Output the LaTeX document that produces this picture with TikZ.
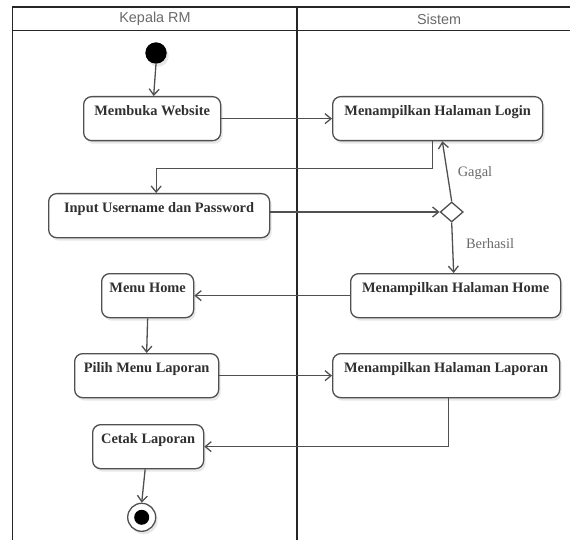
\documentclass[tikz,border=0pt]{standalone}
\usepackage{fontspec}
\setmainfont{Liberation Serif}
\newfontfamily\hdrfont{Liberation Sans}
\usetikzlibrary{arrows.meta,shapes.geometric,shadows,calc}
\definecolor{ln}{HTML}{505050}
\definecolor{txt}{HTML}{303030}
\definecolor{lbl}{HTML}{6A6A6A}
\begin{document}
\begin{tikzpicture}[x=1pt,y=-1pt,
  act/.style={draw=ln, line width=1.3pt, rounded corners=8pt, fill=white,
    drop shadow={shadow xshift=2pt,shadow yshift=-3pt,fill=black!18,opacity=.5},
    font=\bfseries\fontsize{14.4}{16}\selectfont, text=txt,
    inner xsep=0pt, inner ysep=0pt, text height=18.8pt, text depth=25.2pt,
    anchor=north west},
  arr/.style={draw=ln, line width=1.3pt, -{Straight Barb[length=6pt,width=10pt]}},
  frame/.style={draw=black!85, line width=1.5pt},
  hdr/.style={font=\hdrfont\fontsize{14.4}{16}\selectfont, text=lbl},
  guard/.style={font=\fontsize{14.4}{16}\selectfont, text=lbl},
]
\useasboundingbox (0,0) rectangle (570,540);
\fill[white] (0,0) rectangle (570,540);

% swimlane frame
\draw[frame] (12.5,540) -- (12.5,7) -- (570,7);
\draw[frame] (12.5,30.5) -- (570,30.5);
\draw[frame] (297,7) -- (297,540);
\node[hdr] (laneA) at (155,19) {Kepala RM};
\node[hdr] (laneB) at (439,19) {Sistem};

% initial node
\node[circle, fill=black, minimum size=21.4pt, inner sep=0pt,
  drop shadow={shadow xshift=2pt,shadow yshift=-3pt,fill=black!18,opacity=.5}] (start) at (156,53) {};

% activities
\node[act, minimum width=137pt] (mw) at (83,96) {Membuka Website};
\node[act, minimum width=210pt] (login) at (332,96) {Menampilkan Halaman Login};
\node[act, minimum width=221pt] (input) at (48,193) {Input Username dan Password};
\node[act, minimum width=92pt] (mh) at (101,273) {Menu Home};
\node[act, minimum width=210pt] (home) at (350,273) {Menampilkan Halaman Home};
\node[act, minimum width=144pt] (pilih) at (74,353) {Pilih Menu Laporan};
\node[act, minimum width=227pt] (lap) at (332,353) {Menampilkan Halaman Laporan};
\node[act, minimum width=111pt] (cetak) at (92,424) {Cetak Laporan};

% decision
\node[diamond, draw=ln, line width=1.3pt, fill=white, inner sep=0pt,
  minimum width=23pt, minimum height=20pt] (dec) at (451.7,212) {};

% final node
\node[circle, draw=ln, line width=1.3pt, fill=white, minimum size=28pt, inner sep=0pt,
  drop shadow={shadow xshift=2pt,shadow yshift=-3pt,fill=black!18,opacity=.5}] (end) at (141.7,517.3) {};
\node[circle, fill=black, minimum size=15pt, inner sep=0pt] (endin) at (end.center) {};

% connectors
\draw[arr] (start.south) -- ($(mw.north)+(1.5,0)$);
\draw[arr] (mw.east) -- (mw.east -| login.west);
\draw[arr] ($(login.south)+(-5,0)$) -- ++(0,27) -| ($(input.north)+(-3,0)$);
\draw[arr] (input.east |- dec.west) -- (dec.west);
\draw[arr] (dec.north) -- ($(login.south)+(4.7,0)$);
\node[guard] (gagal) at (475,173) {Gagal};
\draw[arr] (dec.south) -- ($(home.north)+(-2,0)$);
\node[guard] (berhasil) at (490,244) {Berhasil};
\draw[arr] (home.west) -- (mh.east);
\draw[arr] (mh.south) -- (pilih.north);
\draw[arr] (pilih.east) -- (pilih.east -| lap.west);
\draw[arr] ($(lap.south)+(2,0)$) |- (cetak.east);
\draw[arr] ($(cetak.south)+(-3,0)$) -- (end.north);
\end{tikzpicture}
\end{document}
